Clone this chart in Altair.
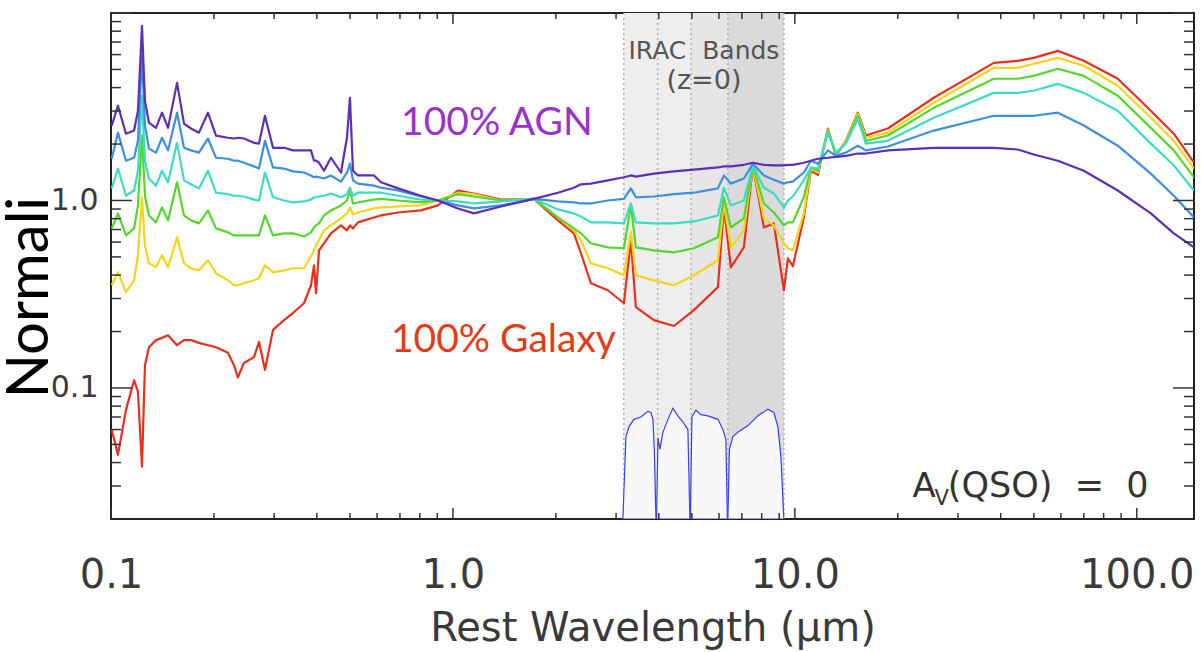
import altair as alt
import pandas as pd

# ---------------- data ----------------
wavelength = [0.1005, 0.1048, 0.1106, 0.1168, 0.1199, 0.1232, 0.1257, 0.1291, 0.1354, 0.1410,
              0.1468, 0.1560, 0.1635, 0.1714, 0.1808, 0.1921, 0.2028, 0.2198, 0.2289, 0.2351,
              0.2448, 0.2619, 0.2709, 0.2820, 0.2977, 0.3206, 0.3406, 0.3667, 0.3845, 0.3924,
              0.3977, 0.4058, 0.4197, 0.4398, 0.4705, 0.4899, 0.4999, 0.5101, 0.5275, 0.5875,
              0.6158, 0.6907, 0.8063, 0.9040, 1.034, 1.152, 1.382, 1.725, 2.028, 2.259,
              2.368, 2.532, 2.839, 3.162, 3.315, 3.428, 3.870, 4.429, 5.067, 5.956,
              6.200, 6.500, 7.094, 7.538, 8.117, 8.683, 9.286, 9.539, 9.867, 10.62,
              11.14, 11.68, 12.49, 13.18, 14.10, 15.28, 16.13, 18.71, 25.49, 38.19,
              44.87, 49.99, 58.75, 69.98, 87.99, 109.9, 128.3, 147.0]

agn_100 = [2.51, 3.20, 2.27, 2.36, 3.01, 8.53, 3.40, 2.60, 2.44, 2.94,
           2.44, 4.24, 2.57, 2.42, 2.30, 2.94, 2.22, 2.16, 2.14, 2.16,
           2.14, 2.03, 2.01, 2.83, 1.91, 1.91, 1.85, 1.85, 1.85, 1.63,
           1.63, 1.59, 1.44, 1.69, 1.41, 2.16, 3.53, 1.44, 1.36, 1.36,
           1.25, 1.16, 1.06, 1.00, 0.907, 0.853, 0.929, 1.02, 1.10, 1.17,
           1.22, 1.23, 1.28, 1.33, 1.36, 1.34, 1.39, 1.43, 1.46, 1.50,
           1.52, 1.52, 1.55, 1.59, 1.55, 1.54, 1.54, 1.55, 1.55, 1.59,
           1.63, 1.67, 1.69, 1.71, 1.73, 1.78, 1.78, 1.85, 1.91, 1.91,
           1.87, 1.76, 1.63, 1.44, 1.13, 0.853, 0.668, 0.562]

mix_blue = [1.67, 2.30, 1.63, 1.69, 2.08, 5.91, 2.51, 1.89, 1.80, 2.16,
            1.85, 2.94, 1.91, 1.85, 1.80, 2.14, 1.69, 1.67, 1.63, 1.63,
            1.59, 1.52, 1.48, 2.08, 1.50, 1.48, 1.43, 1.41, 1.36, 1.33,
            1.34, 1.33, 1.31, 1.36, 1.26, 1.41, 1.57, 1.28, 1.23, 1.20,
            1.17, 1.13, 1.05, 1.00, 0.941, 0.907, 0.941, 1.02, 0.988, 0.976,
            0.964, 0.964, 1.00, 1.02, 1.16, 1.04, 1.05, 1.08, 1.10, 1.16,
            1.36, 1.23, 1.31, 1.57, 1.36, 1.29, 1.23, 1.25, 1.26, 1.41,
            1.63, 1.57, 1.85, 1.73, 1.80, 1.96, 1.85, 1.94, 2.36, 2.83,
            2.83, 2.83, 2.94, 2.51, 1.96, 1.39, 1.06, 0.812]

mix_cyan = [1.16, 1.48, 1.06, 1.13, 1.44, 3.62, 1.63, 1.31, 1.20, 1.44,
            1.25, 2.03, 1.28, 1.22, 1.16, 1.44, 1.10, 1.08, 1.06, 1.06,
            1.05, 1.01, 1.00, 1.41, 1.04, 1.00, 0.976, 0.988, 1.01, 1.04,
            1.04, 1.05, 1.06, 1.09, 1.04, 1.08, 1.17, 1.06, 1.10, 1.10,
            1.10, 1.06, 1.01, 1.00, 0.988, 0.964, 0.988, 1.02, 0.896, 0.853,
            0.822, 0.764, 0.764, 0.755, 0.964, 0.764, 0.755, 0.755, 0.773, 0.832,
            1.17, 0.941, 1.00, 1.54, 1.17, 1.09, 0.918, 1.00, 1.05, 1.28,
            1.50, 1.48, 2.30, 1.80, 2.01, 2.73, 2.01, 2.08, 2.76, 3.75,
            3.75, 3.85, 4.19, 3.75, 3.01, 2.01, 1.54, 1.13]

mix_green = [0.710, 0.853, 0.651, 0.710, 0.941, 2.22, 1.06, 0.832, 0.764, 0.918,
             0.783, 1.25, 0.832, 0.783, 0.755, 0.885, 0.710, 0.676, 0.651, 0.651,
             0.651, 0.651, 0.651, 0.832, 0.651, 0.668, 0.668, 0.643, 0.676, 0.718,
             0.736, 0.755, 0.832, 0.885, 0.941, 1.00, 1.13, 0.964, 0.976, 1.01,
             1.02, 1.00, 0.976, 1.00, 1.08, 1.05, 1.00, 1.02, 0.812, 0.710,
             0.668, 0.591, 0.562, 0.556, 0.941, 0.562, 0.542, 0.529, 0.556, 0.636,
             1.04, 0.718, 0.802, 1.54, 0.964, 0.863, 0.736, 0.764, 0.764, 1.04,
             1.50, 1.44, 2.36, 1.78, 2.03, 2.83, 2.08, 2.22, 3.12, 4.46,
             4.46, 4.62, 5.04, 4.62, 3.62, 2.44, 1.85, 1.33]

mix_yellow = [0.353, 0.414, 0.324, 0.375, 0.510, 1.04, 0.576, 0.462, 0.440, 0.510,
              0.440, 0.636, 0.462, 0.435, 0.424, 0.480, 0.409, 0.375, 0.353, 0.353,
              0.362, 0.375, 0.385, 0.451, 0.414, 0.424, 0.435, 0.435, 0.504, 0.542,
              0.576, 0.613, 0.693, 0.736, 0.802, 0.853, 0.918, 0.842, 0.863, 0.907,
              0.918, 0.929, 0.941, 1.00, 1.10, 1.08, 1.00, 1.02, 0.812, 0.693,
              0.613, 0.462, 0.435, 0.399, 0.676, 0.399, 0.375, 0.353, 0.399, 0.480,
              0.964, 0.562, 0.693, 1.54, 0.802, 0.736, 0.591, 0.556, 0.542, 0.853,
              1.48, 1.41, 2.39, 1.76, 2.06, 2.90, 2.16, 2.30, 3.32, 5.10,
              5.10, 5.36, 5.76, 5.23, 4.09, 2.76, 2.08, 1.48]

galaxy_100 = [0.0598, 0.0440, 0.0764, 0.110, 0.0952, 0.0380, 0.132, 0.165, 0.180, 0.185,
              0.191, 0.169, 0.180, 0.180, 0.174, 0.169, 0.165, 0.154, 0.132, 0.114,
              0.136, 0.146, 0.176, 0.125, 0.204, 0.230, 0.251, 0.283, 0.353, 0.451,
              0.320, 0.542, 0.591, 0.668, 0.736, 0.693, 0.736, 0.710, 0.764, 0.812,
              0.832, 0.863, 0.885, 0.941, 1.13, 1.09, 1.01, 1.02, 0.783, 0.668,
              0.523, 0.362, 0.332, 0.283, 0.613, 0.270, 0.230, 0.214, 0.260, 0.345,
              0.918, 0.440, 0.562, 1.54, 0.718, 0.755, 0.332, 0.491, 0.446, 0.812,
              1.44, 1.37, 2.42, 1.73, 2.08, 2.94, 2.22, 2.42, 3.53, 5.42,
              5.56, 5.76, 6.28, 5.56, 4.46, 3.01, 2.27, 1.59]

# drawing order: galaxy first, AGN last
series = [
    ("galaxy_100", galaxy_100, "#e8301c"),
    ("mix_yellow", mix_yellow, "#f4d41c"),
    ("mix_green", mix_green, "#55d52e"),
    ("mix_cyan", mix_cyan, "#3ddbc3"),
    ("mix_blue", mix_blue, "#3d8fe0"),
    ("agn_100", agn_100, "#5c2fb5"),
]

# IRAC filter response curves (drawn in flux units near the bottom)
filter_band = [1] * 10 + [2] * 10 + [3] * 9 + [4] * 11
filter_wl = [3.141, 3.206, 3.271, 3.383, 3.545, 3.717, 3.793, 3.845, 3.884, 3.924,
             3.940, 3.978, 4.031, 4.113, 4.254, 4.398, 4.548, 4.703, 4.866, 4.932,
             4.949, 4.999, 5.136, 5.310, 5.567, 5.956, 6.158, 6.284, 6.348,
             6.370, 6.435, 6.586, 6.812, 7.289, 7.795, 8.339, 8.683, 8.920, 9.103, 9.286]
filter_resp = [0.020, 0.055, 0.062, 0.068, 0.070, 0.075, 0.074, 0.068, 0.045, 0.020,
               0.020, 0.054, 0.047, 0.058, 0.068, 0.078, 0.071, 0.066, 0.060, 0.020,
               0.020, 0.070, 0.076, 0.072, 0.071, 0.068, 0.060, 0.053, 0.020,
               0.020, 0.047, 0.055, 0.058, 0.063, 0.071, 0.077, 0.074, 0.062, 0.043, 0.020]
filter_base = 0.02

# IRAC shaded regions
band_edges = [3.16, 3.97, 4.97, 6.37, 9.29]
shade_start = [3.16, 4.97, 6.37]
shade_end = [4.97, 6.37, 9.29]
shade_color = ["#eeeeee", "#e6e6e6", "#dadada"]

# axis ticks
x_labels = [0.1, 1.0, 10.0, 100.0]
x_major = [0.1, 1, 10, 100]
x_minor = [0.2, 0.3, 0.4, 0.5, 0.6, 0.7, 0.8, 0.9,
           2, 3, 4, 5, 6, 7, 8, 9,
           20, 30, 40, 50, 60, 70, 80, 90]
y_labels = [0.1, 1.0]
y_major = [0.1, 1, 10]
y_minor = [0.03, 0.04, 0.05, 0.06, 0.07, 0.08, 0.09,
           0.2, 0.3, 0.4, 0.5, 0.6, 0.7, 0.8, 0.9,
           2, 3, 4, 5, 6, 7, 8, 9]

# ---------------- chart ----------------
W, H = 1083, 506
xscale = alt.Scale(type="log", domain=[0.1, 147], nice=False)
yscale = alt.Scale(type="log", domain=[0.02, 10], nice=False)

LABEL_COLOR = "#3a3a3a"
xaxis = alt.Axis(values=x_labels, format=".1f", title="Rest Wavelength (µm)",
                 grid=False, ticks=False, tickSize=0, domain=False,
                 labelFont="DejaVu Sans", labelFontSize=40, labelColor=LABEL_COLOR,
                 labelPadding=68, labelBaseline="alphabetic", labelFlush=False,
                 labelOverlap=False,
                 titleFont="DejaVu Sans", titleFontSize=40, titleFontWeight="normal",
                 titleColor=LABEL_COLOR, titleY=121, titleBaseline="alphabetic")
yaxis = alt.Axis(values=y_labels, format=".1f", title="Normali",
                 grid=False, ticks=False, tickSize=0, domain=False,
                 labelFont="DejaVu Sans", labelFontSize=30, labelColor=LABEL_COLOR,
                 labelPadding=13, labelOverlap=False,
                 titleFont="Lato", titleFontSize=58, titleFontWeight="normal",
                 titleColor="black", titleAngle=270, titleX=-64, titleY=284,
                 titleAlign="center", titleBaseline="alphabetic")


def X(field="wl"):
    return alt.X(f"{field}:Q", scale=xscale, axis=xaxis)


def Y(field="flux"):
    return alt.Y(f"{field}:Q", scale=yscale, axis=yaxis)


layers = []

shade_df = pd.DataFrame({"wl": shade_start, "wl2": shade_end, "shade": shade_color})
layers.append(
    alt.Chart(shade_df).mark_rect().encode(
        x=X(), x2="wl2:Q", y=alt.value(0), y2=alt.value(H),
        color=alt.Color("shade:N", scale=None))
)

edge_df = pd.DataFrame({"wl": band_edges})
layers.append(
    alt.Chart(edge_df).mark_rule(color="#b4b4b4", strokeWidth=1.6, strokeDash=[2, 3]).encode(
        x=X(), y=alt.value(0), y2=alt.value(H))
)

filt_df = pd.DataFrame({"wl": filter_wl, "flux": filter_resp, "band": filter_band,
                        "base": [filter_base] * len(filter_wl)})
layers.append(
    alt.Chart(filt_df).mark_area(fill="#f8f8f8", stroke="#3c3cf2", strokeWidth=1.2,
                                 clip=True).encode(
        x=X(), y=Y(), y2="base:Q", detail="band:N")
)

for name, vals, col in series:
    df = pd.DataFrame({"wl": wavelength, "flux": vals})
    layers.append(
        alt.Chart(df).mark_line(color=col, strokeWidth=2.2, clip=True,
                                strokeJoin="round").encode(x=X(), y=Y())
    )

# annotations (positions in data units)
def text_layer(txt, wl, flux, color, size, font, align="left"):
    df = pd.DataFrame({"wl": [wl], "flux": [flux], "t": [txt]})
    return alt.Chart(df).mark_text(color=color, fontSize=size, font=font, align=align,
                                   baseline="alphabetic").encode(x=X(), y=Y(), text="t:N")

NB = "\u00a0"
layers.append(text_layer("100% AGN", 0.705, 2.24, "#9a34c8", 39, "Lato"))
layers.append(text_layer("100% Galaxy", 0.659, 0.155, "#e23b16", 39, "Lato"))
layers.append(text_layer("IRAC" + NB + NB + "Bands", 5.42, 5.69, "#555555", 25, "DejaVu Sans", "center"))
layers.append(text_layer("(z=0)", 5.42, 3.94, "#555555", 27, "DejaVu Sans", "center"))
layers.append(text_layer("A", 22.1, 0.0263, "#333333", 34, "DejaVu Sans"))
layers.append(text_layer("V", 25.6, 0.0238, "#333333", 21, "DejaVu Sans"))
layers.append(text_layer("(QSO)" + NB + NB + "=" + NB + NB + "0", 28.0, 0.0263, "#333333", 35,
                         "DejaVu Sans"))

# inward ticks on all four sides
TICK = "#333333"
for vals, ln in ((x_major, 11), (x_minor, 6)):
    df = pd.DataFrame({"wl": vals})
    layers.append(alt.Chart(df).mark_rule(color=TICK, strokeWidth=1.5).encode(
        x=X(), y=alt.value(0), y2=alt.value(ln)))
    layers.append(alt.Chart(df).mark_rule(color=TICK, strokeWidth=1.5).encode(
        x=X(), y=alt.value(H), y2=alt.value(H - ln)))
for vals, ln in ((y_major, 21), (y_minor, 10)):
    df = pd.DataFrame({"flux": vals})
    layers.append(alt.Chart(df).mark_rule(color=TICK, strokeWidth=1.5).encode(
        y=Y(), x=alt.value(0), x2=alt.value(ln)))
    layers.append(alt.Chart(df).mark_rule(color=TICK, strokeWidth=1.5).encode(
        y=Y(), x=alt.value(W), x2=alt.value(W - ln)))

chart = alt.layer(*layers).properties(
    width=W, height=H,
    autosize=alt.AutoSizeParams(type="none"),
    padding={"left": 111, "top": 13, "right": 7, "bottom": 133},
    background="white",
).configure_view(stroke="#222222", strokeWidth=2)

chart.save("out.html", embed_options={"renderer": "svg", "actions": False})
